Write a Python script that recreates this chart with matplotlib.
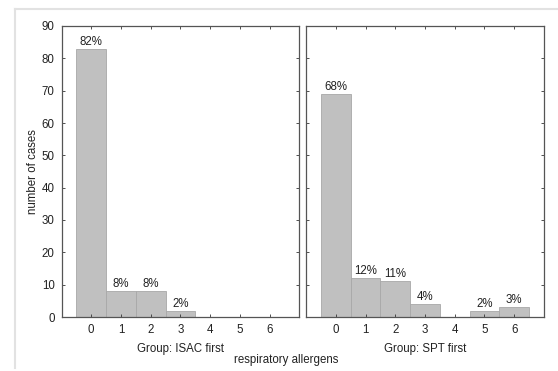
import numpy as np
import matplotlib
matplotlib.use('Agg')
import matplotlib.pyplot as plt
from matplotlib.lines import Line2D

plt.rcParams['font.family'] = ['Liberation Sans', 'DejaVu Sans']

# data
categories = [0, 1, 2, 3, 4, 5, 6]
isac_counts = [83, 8, 8, 2, 0, 0, 0]
isac_pct = ['82%', '8%', '8%', '2%', '', '', '']
spt_counts = [69, 12, 11, 4, 0, 2, 3]
spt_pct = ['68%', '12%', '11%', '4%', '', '2%', '3%']
group_labels = ['Group: ISAC first', 'Group: SPT first']
yticks = [0, 10, 20, 30, 40, 50, 60, 70, 80, 90]

W, H = 558, 371
fig = plt.figure(figsize=(W / 100, H / 100), dpi=100)
fig.patch.set_facecolor('white')

# light grey frame around the picture
fig.add_artist(Line2D([15 / W, 1], [1 - 9 / H, 1 - 9 / H], color='#e2e2e2', lw=1.5))
fig.add_artist(Line2D([15 / W, 15 / W], [1 - 368 / H, 1 - 9 / H], color='#e2e2e2', lw=1.5))

bar_col = '#c0c0c0'
edge_col = '#a8a8a8'
frame_col = '#555555'
fs = 8.3


def make_panel(left_px, counts, pct, group, show_y):
    ax = fig.add_axes([left_px / W, (H - 317) / H, 238 / W, 291 / H])
    ax.bar(categories, counts, width=1.0, color=bar_col, edgecolor=edge_col, linewidth=0.6)
    for x, c, p in zip(categories, counts, pct):
        if p:
            ax.text(x, c + 0.3, p, ha='center', va='bottom', fontsize=fs, color='#222222')
    ax.set_xlim(-1, 7)
    ax.set_ylim(0, 90)
    ax.set_xticks(categories)
    ax.set_yticks(yticks)
    ax.tick_params(direction='in', length=2.5, width=0.6, color='#333333',
                   labelsize=fs, top=True, right=True, labelcolor='#222222', pad=5)
    if not show_y:
        ax.tick_params(labelleft=False)
    for s in ax.spines.values():
        s.set_color(frame_col)
        s.set_linewidth(0.9)
    ax.set_xlabel(group, fontsize=fs, color='#222222', labelpad=5)
    return ax


ax1 = make_panel(61.5, isac_counts, isac_pct, group_labels[0], True)
ax1.set_ylabel('number of cases', fontsize=fs, color='#222222', labelpad=2)
ax2 = make_panel(306, spt_counts, spt_pct, group_labels[1], False)

fig.text(286 / W, 1 - 360 / H, 'respiratory allergens', ha='center', va='center',
         fontsize=fs, color='#222222')

fig.savefig('out.png', dpi=100, facecolor='white')
